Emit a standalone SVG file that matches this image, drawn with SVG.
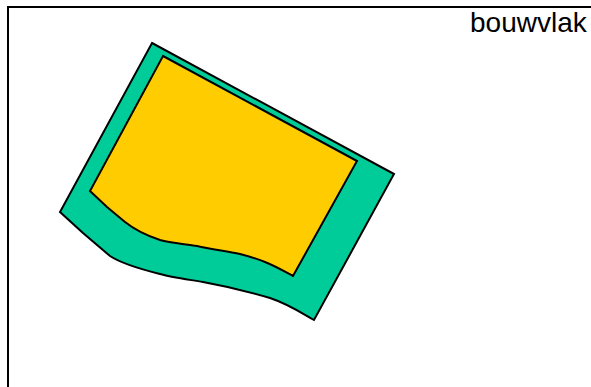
<svg xmlns="http://www.w3.org/2000/svg" width="591" height="387" viewBox="0 0 591 387">
<style>
.frame{fill:none;stroke:#000;stroke-width:2}
.shape{stroke:#000;stroke-width:2;stroke-linejoin:miter}
.green{fill:#00CC99}
.yellow{fill:#FFCC00}
.lbl{font-family:"Liberation Sans",Arial,sans-serif;font-size:28px;fill:#000}
</style>
<rect class="frame" x="8" y="7" width="600" height="400"/>
<g id="perceel">
<path class="shape green" d="M152,43 L394,174 L314,320 C300,312 288,304 270,298 C250,292 225,286 203,282 C185,279 170,277 160,274 C140,269 122,264 110,256 L83,233 L60,212 Z"/>
</g>
<g id="bouwvlak">
<path class="shape yellow" d="M163,56 L357,161 L293,276 C282,270 275,266 265,262 C255,258 248,256 240,254 C225,251 210,249 197,246 C185,244 170,243 160,240 C145,235 135,230 125,222 L107,207 L90,191 Z"/>
</g>
<text class="lbl" x="470" y="32">bouwvlak</text>
</svg>
